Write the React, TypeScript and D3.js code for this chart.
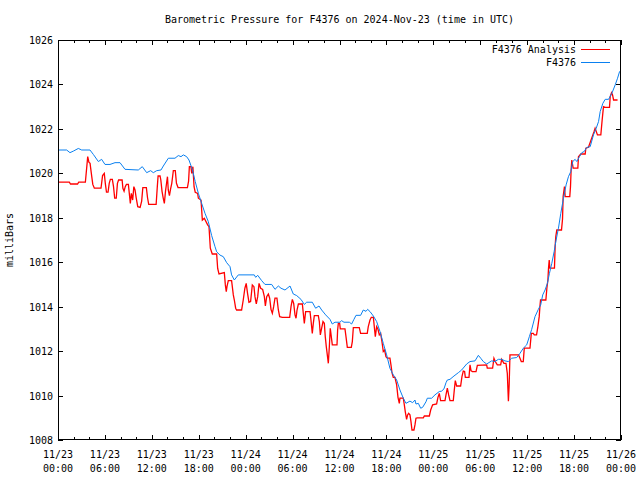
import React from "react";
import * as d3 from "d3";

const startTime = Date.UTC(2024, 10, 23, 0, 0);
const title = "Barometric Pressure for F4376 on 2024-Nov-23 (time in UTC)";
const yLabel = "milliBars";
const seriesNames = ["F4376 Analysis", "F4376"];
const seriesColors = ["#ff0000", "#0a80f0"];
const yTicks = [1008, 1010, 1012, 1014, 1016, 1018, 1020, 1022, 1024, 1026];
const xLabelHours = [0, 6, 12, 18, 24, 30, 36, 42, 48, 54, 60, 66, 72];

// F4376 (observed) — hours since 2024-11-23 00:00 UTC
const blueHours = [0,1.11,1.53,1.96,2.6,3.03,4.09,4.52,5.16,5.58,6.01,6.65,7.29,7.93,8.57,10.27,10.78,11.34,11.85,12.19,12.62,13.17,13.47,14.11,14.96,15.39,15.73,16.03,16.45,16.75,17.2,17.55,17.95,18.37,18.8,19.22,19.65,20.08,20.29,20.72,21.14,21.57,22.0,22.2,22.55,23.06,25.1,25.28,25.54,26.05,26.47,27.33,27.75,28.18,28.52,29.03,29.67,30.09,30.52,31.07,31.5,31.8,32.52,32.95,33.38,33.72,34.23,34.78,35.08,35.42,36.06,36.27,36.57,37.26,37.55,37.85,38.11,38.7,39.04,39.39,39.6,39.9,40.33,40.75,41.18,41.6,42.03,42.45,42.88,43.31,43.73,44.16,44.5,45.01,45.35,45.65,45.78,46.08,46.38,46.63,47.06,47.23,47.78,48.21,48.76,49.06,49.36,49.62,49.79,50.13,50.64,51.2,51.62,52.26,52.69,53.33,53.76,54.06,54.39,54.82,55.46,55.88,56.31,56.74,57.16,57.59,58.02,58.66,59.08,59.51,59.94,60.28,60.58,61.0,61.43,61.73,61.99,62.29,62.59,62.85,63.15,63.45,63.7,64.0,64.3,64.64,64.98,65.28,65.58,65.83,66.13,66.35,66.69,66.99,67.29,67.63,68.06,68.48,68.83,69.13,69.34,69.68,69.98,70.41,70.83,71.26,71.56,71.82,72];
const bluePressure = [1021.05,1021.05,1020.93,1021.0,1021.12,1021.05,1021.05,1020.85,1020.53,1020.63,1020.4,1020.4,1020.48,1020.48,1020.18,1020.15,1020.3,1020.03,1020.12,1020.03,1020.12,1020.15,1020.33,1020.68,1020.68,1020.8,1020.75,1020.83,1020.75,1020.6,1020.15,1019.63,1019.1,1018.65,1018.2,1017.83,1017.2,1016.7,1016.47,1016.32,1016.25,1015.98,1015.8,1015.43,1015.2,1015.43,1015.43,1015.32,1015.41,1015.17,1015.0,1015.0,1014.78,1014.93,1014.83,1014.75,1014.93,1014.57,1014.5,1014.33,1014.1,1014.2,1014.2,1013.93,1014.03,1013.85,1013.63,1013.43,1013.22,1013.3,1013.3,1013.37,1013.3,1013.3,1013.22,1013.43,1013.61,1013.61,1013.85,1013.79,1013.88,1013.78,1013.58,1013.33,1012.88,1012.35,1011.83,1011.23,1010.93,1010.7,1010.25,1009.88,1009.65,1009.75,1009.68,1009.8,1009.62,1009.65,1009.43,1009.47,1009.72,1009.88,1009.88,1010.03,1010.18,1010.2,1010.3,1010.58,1010.7,1010.73,1010.88,1011.03,1011.15,1011.42,1011.53,1011.56,1011.81,1011.68,1011.53,1011.42,1011.56,1011.53,1011.63,1011.63,1011.56,1011.53,1011.68,1011.71,1011.9,1012.13,1012.28,1012.65,1012.98,1013.55,1013.88,1014.08,1014.53,1014.75,1015.05,1015.5,1015.95,1016.48,1017.0,1017.53,1018.2,1018.88,1019.48,1019.85,1020.08,1020.53,1020.63,1020.53,1020.75,1020.93,1020.98,1021.17,1021.2,1021.73,1022.03,1022.33,1022.78,1023.15,1023.33,1023.33,1023.6,1023.98,1024.28,1024.58,1024.6];

// F4376 Analysis
const redHours = [0,1.45,1.6,2.5,2.65,3.5,3.8,3.95,4.1,4.3,4.45,4.65,5.5,5.7,5.92,6.05,6.2,6.4,6.55,6.7,6.95,7.1,7.25,7.45,7.6,7.75,8.2,8.3,8.45,8.6,8.75,9.0,9.25,9.38,9.55,9.7,9.85,10.0,10.2,10.5,10.7,10.85,11.3,11.45,11.6,12.55,12.7,12.8,13.05,13.15,13.3,13.45,13.6,13.75,13.9,14.0,14.1,14.25,14.4,14.55,14.75,15.0,15.15,15.35,16.55,16.7,16.8,17.0,17.1,17.25,17.4,17.55,17.86,17.95,18.29,18.46,18.71,19.14,19.31,19.48,19.73,20.29,20.42,20.59,21.27,21.4,21.52,21.61,21.78,22.2,22.42,22.55,22.72,22.84,23.48,23.69,23.9,24.07,24.24,24.42,24.63,24.85,25.06,25.19,25.36,25.54,25.71,25.92,26.17,26.39,26.52,26.69,26.9,27.07,27.24,27.41,27.58,27.75,28.0,28.18,28.35,28.69,29.63,29.8,29.97,30.14,30.31,30.44,30.57,30.74,31.25,31.37,31.5,31.67,32.23,32.35,32.52,32.65,32.78,33.29,33.42,33.55,33.72,33.89,34.06,34.18,34.31,34.44,34.57,34.7,34.82,34.95,35.08,35.68,35.76,35.85,36.02,36.1,36.7,36.83,37.0,37.51,37.64,37.77,38.53,38.7,39.55,39.68,39.9,40.07,40.33,40.45,40.58,40.75,40.92,41.09,41.26,41.43,41.6,41.77,41.94,42.11,42.45,42.58,42.71,42.88,43.09,43.31,43.48,43.65,43.73,44.16,44.29,44.41,44.58,44.71,44.84,45.01,45.14,45.27,45.52,45.65,45.78,45.95,46.72,46.85,47.49,47.66,47.91,48.42,48.59,48.76,48.93,49.49,49.62,49.79,49.96,50.13,50.55,50.68,50.81,50.98,51.49,51.66,51.83,52.0,52.09,52.56,52.69,52.82,52.99,53.46,53.63,54.82,54.9,55.58,55.75,55.92,56.18,56.61,56.74,57.03,57.29,57.46,57.6,57.7,57.8,58.9,59.08,59.25,59.5,59.63,60.36,60.53,60.78,60.91,61.2,61.37,61.54,61.63,61.71,62.39,62.52,62.65,62.73,62.82,62.9,63.49,63.58,63.66,63.79,64.39,64.52,64.6,64.77,64.86,65.45,65.54,65.62,65.71,65.88,66.48,66.56,66.86,67.42,67.5,67.84,68.56,68.69,68.99,69.42,69.59,69.76,69.98,70.53,70.62,70.79,70.92,71.05,71.56];
const redPressure = [1019.6,1019.6,1019.52,1019.52,1019.6,1019.6,1020.75,1020.5,1020.45,1019.9,1019.5,1019.33,1019.33,1019.9,1020.0,1019.55,1019.15,1019.15,1019.55,1019.73,1019.73,1019.4,1018.88,1018.88,1019.55,1019.7,1019.7,1019.33,1019.2,1019.4,1019.5,1019.5,1018.65,1019.1,1018.8,1019.4,1019.25,1018.9,1018.5,1018.47,1018.75,1019.36,1019.36,1018.9,1018.6,1018.6,1019.4,1019.88,1019.88,1019.7,1019.2,1018.9,1018.65,1019.2,1019.6,1019.85,1019.25,1019.0,1019.3,1019.55,1020.12,1020.12,1019.55,1019.36,1019.36,1019.65,1020.3,1020.3,1020.0,1020.3,1019.4,1019.15,1019.1,1018.88,1018.8,1017.9,1017.98,1017.68,1017.6,1016.63,1016.37,1016.37,1015.72,1015.47,1015.53,1014.98,1014.68,1014.9,1015.17,1015.17,1014.53,1014.3,1013.93,1013.85,1013.85,1014.3,1014.83,1015.05,1014.6,1014.2,1014.23,1014.98,1014.9,1014.45,1014.12,1014.45,1015.05,1014.83,1014.78,1014.45,1014.03,1014.45,1014.57,1014.38,1013.88,1013.7,1014.0,1014.38,1014.38,1013.85,1013.55,1013.52,1013.52,1014.0,1014.33,1014.15,1013.63,1013.48,1013.85,1014.12,1014.12,1013.7,1013.25,1013.78,1013.78,1013.4,1012.8,1013.25,1013.6,1013.6,1013.33,1012.73,1013.03,1013.33,1013.25,1012.65,1012.2,1011.83,1011.45,1012.2,1013.03,1012.65,1012.28,1012.28,1012.95,1013.25,1013.25,1013.0,1013.0,1012.65,1012.17,1012.17,1012.43,1013.06,1013.06,1012.8,1012.8,1013.1,1013.4,1013.52,1013.52,1013.1,1012.65,1013.1,1012.98,1012.73,1012.8,1012.43,1011.98,1012.05,1011.75,1011.68,1011.68,1011.38,1011.03,1010.82,1010.82,1010.48,1009.92,1009.65,1009.88,1009.88,1009.58,1009.28,1008.93,1009.13,1009.2,1009.13,1008.83,1008.45,1008.45,1008.68,1008.98,1009.0,1009.0,1009.08,1009.08,1009.35,1009.58,1009.62,1009.92,1010.1,1009.77,1009.77,1010.03,1010.33,1010.03,1009.77,1009.77,1010.25,1010.67,1010.43,1010.43,1010.85,1011.1,1011.08,1010.82,1010.82,1011.38,1011.12,1011.08,1011.08,1011.36,1011.38,1011.23,1011.23,1011.68,1011.53,1011.38,1011.38,1011.63,1011.45,1011.45,1011.0,1009.75,1010.5,1011.83,1011.83,1011.68,1011.53,1011.53,1012.13,1012.13,1012.8,1012.8,1012.73,1012.73,1013.1,1013.55,1014.0,1014.3,1014.3,1014.83,1015.2,1015.73,1016.1,1015.73,1015.73,1016.73,1017.15,1017.45,1017.45,1017.93,1018.95,1019.4,1018.95,1018.95,1019.4,1020.15,1020.6,1020.23,1020.23,1020.75,1020.87,1020.87,1021.13,1021.17,1021.88,1022.03,1021.73,1021.73,1022.4,1023.0,1022.97,1022.97,1023.45,1023.63,1023.53,1023.3,1023.3];

const W = 640, H = 480;
const L = 58, R = 621, T = 40, B = 440;
const FONT = "'DejaVu Sans Mono', monospace";

export default function App() {
  const x = d3.scaleLinear().domain([0, 72]).range([L, R]);
  const y = d3.scaleLinear().domain([1008, 1026]).range([B, T]);
  const line = d3.line<[number, number]>().x(d => x(d[0])).y(d => y(d[1]));
  const red = redHours.map((h, i) => [h, redPressure[i]] as [number, number]);
  const blue = blueHours.map((h, i) => [h, bluePressure[i]] as [number, number]);
  const fmtDate = d3.utcFormat("%m/%d");
  const fmtTime = d3.utcFormat("%H:%M");
  const minorTicks = d3.range(0, 73, 2);
  const px = (v: number) => Math.round(v) + 0.5;

  return (
    <svg width={W} height={H} style={{ position: "absolute", left: 0, top: 0, background: "#fff" }} fontFamily={FONT} fontSize={10}>
      <rect x={0} y={0} width={W} height={H} fill="#fff" />
      <text x={(L + R) / 2} y={23} textAnchor="middle" fill="#000">{title}</text>
      <text transform={`translate(13,${(T + B) / 2}) rotate(-90)`} textAnchor="middle" fill="#000">{yLabel}</text>
      <g shapeRendering="crispEdges" stroke="#000" strokeWidth={1}>
        {yTicks.map(t => (
          <g key={"y" + t}>
            <line x1={L} x2={L + 5} y1={px(y(t))} y2={px(y(t))} />
            <line x1={R - 5} x2={R} y1={px(y(t))} y2={px(y(t))} />
          </g>
        ))}
        {minorTicks.map(t => {
          const len = t % 6 === 0 ? 5 : 3;
          return (
            <g key={"x" + t}>
              <line x1={px(x(t))} x2={px(x(t))} y1={B} y2={B - len} />
              <line x1={px(x(t))} x2={px(x(t))} y1={T} y2={T + len} />
            </g>
          );
        })}
      </g>
      {yTicks.map(t => (
        <text key={"yl" + t} x={L - 5} y={y(t) + 4} textAnchor="end" fill="#000">{t}</text>
      ))}
      {xLabelHours.map(h => {
        const d = new Date(startTime + h * 3600e3);
        return (
          <g key={"xl" + h}>
            <text x={x(h)} y={458} textAnchor="middle" fill="#000">{fmtDate(d)}</text>
            <text x={x(h)} y={472} textAnchor="middle" fill="#000">{fmtTime(d)}</text>
          </g>
        );
      })}
      <path d={line(red) || ""} fill="none" stroke={seriesColors[0]} strokeWidth={1.3} strokeLinejoin="miter" />
      <path d={line(blue) || ""} fill="none" stroke={seriesColors[1]} strokeWidth={1} />
      {seriesNames.map((n, i) => (
        <g key={n}>
          <text x={576} y={53 + i * 13} textAnchor="end" fill="#000">{n}</text>
          <line x1={581} x2={610} y1={49.5 + i * 13} y2={49.5 + i * 13} stroke={seriesColors[i]} strokeWidth={1} shapeRendering="crispEdges" />
        </g>
      ))}
      <rect x={L + 0.5} y={T + 0.5} width={R - L - 1} height={B - T - 1} fill="none" stroke="#000" strokeWidth={1} shapeRendering="crispEdges" />
    </svg>
  );
}
